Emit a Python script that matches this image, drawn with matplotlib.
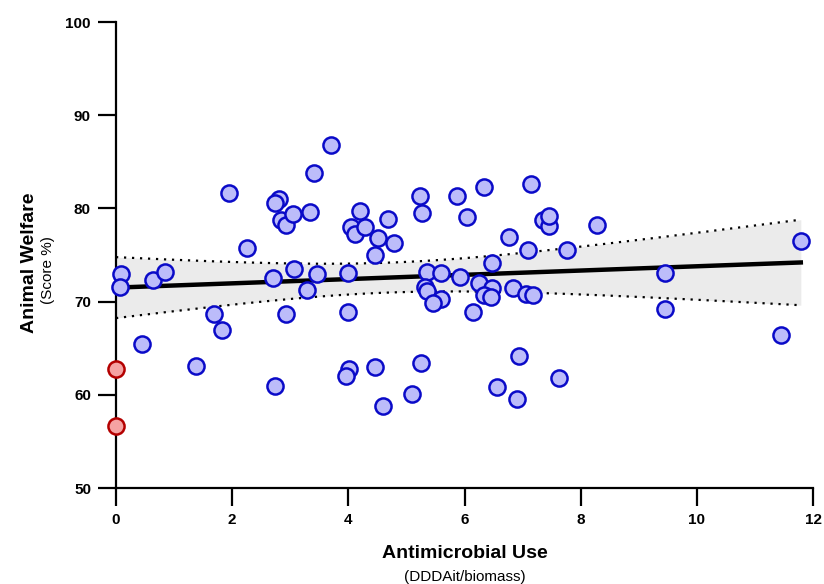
import numpy as np
import matplotlib
matplotlib.use("Agg")
import matplotlib.pyplot as plt

plt.rcParams['font.family'] = ['Liberation Sans', 'DejaVu Sans']

# Blue points
amu = [0.09, 0.07, 0.64, 0.84, 0.45, 1.37, 1.69, 1.82, 2.74, 1.94,
       2.25, 2.70, 2.81, 2.74, 2.84, 2.92, 3.05, 3.06, 2.93, 3.70,
       3.41, 3.34, 4.20, 4.05, 4.11, 4.29, 4.68, 4.51, 4.79, 4.46,
       5.23, 5.27, 5.87, 6.33, 6.04, 7.14, 7.35, 7.45, 7.45, 6.76,
       7.09, 7.76, 6.47, 3.46, 3.99, 3.29, 3.99, 5.35, 5.59, 5.92,
       6.25, 5.32, 5.35, 5.59, 5.46, 6.47, 6.33, 6.45, 6.83, 7.06,
       7.18, 6.14, 4.01, 3.96, 4.46, 5.25, 4.60, 5.09, 6.94, 6.56,
       6.90, 7.62, 8.28, 11.79, 9.45, 9.45, 11.45]
welfare = [72.96, 71.6, 72.3, 73.2, 65.5, 63.1, 68.7, 67.0, 60.9, 81.7,
           75.8, 72.5, 81.0, 80.6, 78.8, 78.2, 79.4, 73.5, 68.7, 86.8,
           83.8, 79.6, 79.7, 78.0, 77.3, 78.0, 78.9, 76.8, 76.3, 75.0,
           81.3, 79.5, 81.3, 82.3, 79.1, 82.6, 78.8, 78.1, 79.2, 76.9,
           75.5, 75.5, 74.1, 73.0, 73.1, 71.2, 68.9, 73.2, 73.1, 72.6,
           72.0, 71.6, 71.1, 70.3, 69.9, 71.5, 70.7, 70.5, 71.5, 70.8,
           70.7, 68.9, 62.8, 62.0, 63.0, 63.4, 58.8, 60.1, 64.2, 60.8,
           59.5, 61.8, 78.2, 76.5, 73.1, 69.2, 66.4]

# Red points
amu_out = [0.0, 0.0]
welfare_out = [62.8, 56.6]

# Regression line and confidence band
fit_intercept = 71.5
fit_slope = 0.229
ci_center_x = 4.7       # x where the band is narrowest
ci_min_var = 2.57       # squared half-width at the narrowest point
ci_spread = 0.368       # growth of squared half-width with (x - center)^2

x = np.array(amu)
xf = np.linspace(0, x.max(), 200)
yf = fit_intercept + fit_slope * xf
half = np.sqrt(ci_min_var + ci_spread * (xf - ci_center_x) ** 2)
lo = yf - half
hi = yf + half

fig = plt.figure(figsize=(8.24, 5.84), dpi=100)
ax = fig.add_axes([116/824, 1 - 488/584, (813-116)/824, (488-22)/584])

ax.fill_between(xf, lo, hi, color='#ebebeb', lw=0, zorder=1)
ax.plot(xf, lo, color='black', ls=(0, (1, 2.6)), lw=1.6, zorder=2)
ax.plot(xf, hi, color='black', ls=(0, (1, 2.6)), lw=1.6, zorder=2)
ax.plot(xf, yf, color='black', lw=3.2, zorder=3)

ax.scatter(amu, welfare, s=135, facecolor='#bcbcfa', edgecolor='#0a0ac8', linewidth=1.8,
           zorder=4, clip_on=False)
ax.scatter(amu_out, welfare_out, s=135, facecolor='#f5a3a3', edgecolor='#b40000',
           linewidth=1.8, zorder=5, clip_on=False)

ax.set_xlim(0, 12)
ax.set_ylim(50, 100)
ax.set_xticks([0, 2, 4, 6, 8, 10, 12])
ax.set_yticks([50, 60, 70, 80, 90, 100])
for side in ['top', 'right']:
    ax.spines[side].set_visible(False)
for side in ['left', 'bottom']:
    ax.spines[side].set_linewidth(1.6)
ax.tick_params(length=13, width=1.6, labelsize=11, pad=5)
for lab in ax.get_xticklabels() + ax.get_yticklabels():
    lab.set_fontweight('bold')

fig.text(0.564, 1 - 554/584, 'Antimicrobial Use', ha='center', va='center',
         fontsize=14, fontweight='bold')
fig.text(0.564, 1 - 577/584, '(DDDAit/biomass)', ha='center', va='center',
         fontsize=11)
fig.text(30/824, 1 - 263/584, 'Animal Welfare', ha='center', va='center',
         fontsize=14, fontweight='bold', rotation=90)
fig.text(48/824, 1 - 270/584, '(Score %)', ha='center', va='center',
         fontsize=11, rotation=90)

fig.savefig('out.png', dpi=100)
